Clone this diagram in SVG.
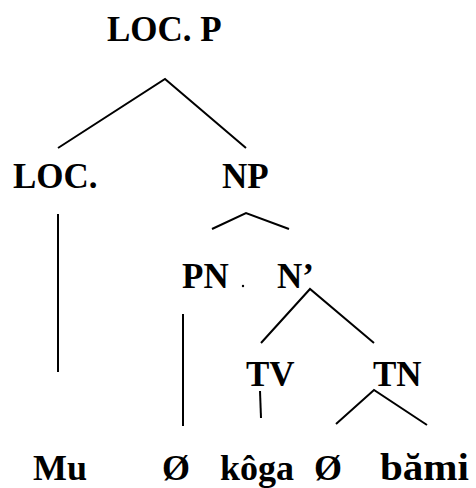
<svg xmlns="http://www.w3.org/2000/svg" width="476" height="488" viewBox="0 0 476 488">
<style>
text{font-family:"Liberation Serif","Times New Roman",serif;font-weight:bold;font-size:35px;fill:#000}
.w{font-size:36px}
line,polyline{stroke:#000;stroke-width:2;fill:none}
</style>
<rect width="476" height="488" fill="#fff"/>
<g id="n-locp"><text x="107" y="41">LOC. P</text></g>
<g id="n-loc"><text x="13" y="188">LOC.</text></g>
<g id="n-np"><text x="222" y="188">NP</text></g>
<g id="n-pn"><text x="182" y="288">PN</text></g>
<g id="n-nbar"><text x="277" y="288">N’</text></g>
<g id="n-tv"><text x="246" y="386">TV</text></g>
<g id="n-tn"><text x="373" y="386">TN</text></g>
<g id="n-mu"><text class="w" x="33" y="480">Mu</text></g>
<g id="n-o1"><text class="w" x="162" y="480">Ø</text></g>
<g id="n-koga"><text class="w" x="220" y="480">kôga</text></g>
<g id="n-o2"><text class="w" x="314" y="480">Ø</text></g>
<g id="n-bami"><text class="w" x="380" y="480" style="font-size:38px" textLength="89" lengthAdjust="spacingAndGlyphs">bămi</text></g>
<g id="connectors">
<polyline points="58,148 165,79 246,148"/>
<polyline points="212,229 246,213 289,229"/>
<line x1="58" y1="214" x2="58" y2="372"/>
<circle cx="243" cy="286" r="1.2" fill="#000"/>
<polyline points="261,343 310,289 374,343"/>
<line x1="183" y1="314" x2="183" y2="426"/>
<line x1="260" y1="391" x2="261" y2="418"/>
<polyline points="336,424 374,390 427,425"/>
</g>
</svg>
